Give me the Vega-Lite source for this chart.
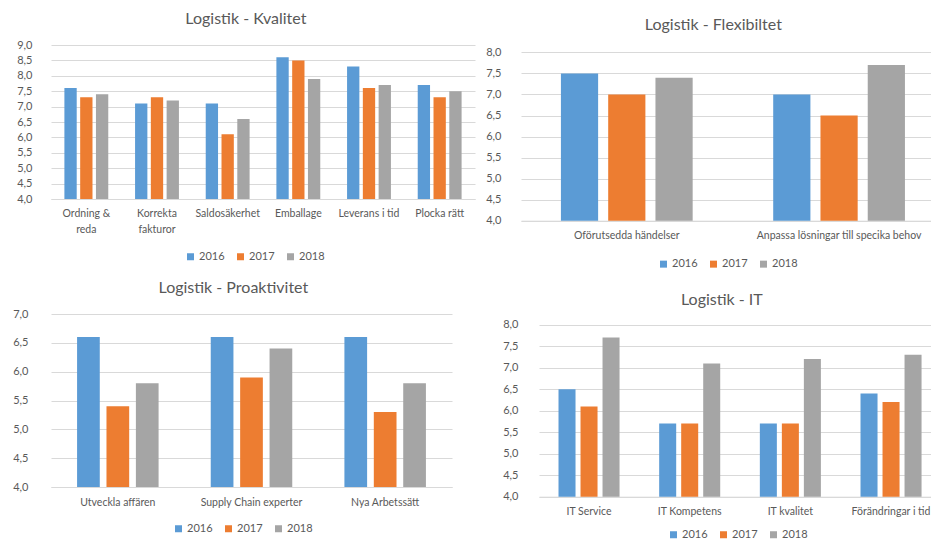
{
  "$schema": "https://vega.github.io/schema/vega-lite/v6.json",
  "padding": {"left": 12, "top": 11, "right": 0, "bottom": 0},
  "background": "white",
  "datasets": {
    "kvalitet": [
      {"category": "Ordning & reda", "year": "2016", "value": 7.6},
      {"category": "Ordning & reda", "year": "2017", "value": 7.3},
      {"category": "Ordning & reda", "year": "2018", "value": 7.4},
      {"category": "Korrekta fakturor", "year": "2016", "value": 7.1},
      {"category": "Korrekta fakturor", "year": "2017", "value": 7.3},
      {"category": "Korrekta fakturor", "year": "2018", "value": 7.2},
      {"category": "Saldosäkerhet", "year": "2016", "value": 7.1},
      {"category": "Saldosäkerhet", "year": "2017", "value": 6.1},
      {"category": "Saldosäkerhet", "year": "2018", "value": 6.6},
      {"category": "Emballage", "year": "2016", "value": 8.6},
      {"category": "Emballage", "year": "2017", "value": 8.5},
      {"category": "Emballage", "year": "2018", "value": 7.9},
      {"category": "Leverans i tid", "year": "2016", "value": 8.3},
      {"category": "Leverans i tid", "year": "2017", "value": 7.6},
      {"category": "Leverans i tid", "year": "2018", "value": 7.7},
      {"category": "Plocka rätt", "year": "2016", "value": 7.7},
      {"category": "Plocka rätt", "year": "2017", "value": 7.3},
      {"category": "Plocka rätt", "year": "2018", "value": 7.5}
    ],
    "flex": [
      {"category": "Oförutsedda händelser", "year": "2016", "value": 7.5},
      {"category": "Oförutsedda händelser", "year": "2017", "value": 7.0},
      {"category": "Oförutsedda händelser", "year": "2018", "value": 7.4},
      {"category": "Anpassa lösningar till specika behov", "year": "2016", "value": 7.0},
      {"category": "Anpassa lösningar till specika behov", "year": "2017", "value": 6.5},
      {"category": "Anpassa lösningar till specika behov", "year": "2018", "value": 7.7}
    ],
    "proaktiv": [
      {"category": "Utveckla affären", "year": "2016", "value": 6.6},
      {"category": "Utveckla affären", "year": "2017", "value": 5.4},
      {"category": "Utveckla affären", "year": "2018", "value": 5.8},
      {"category": "Supply Chain experter", "year": "2016", "value": 6.6},
      {"category": "Supply Chain experter", "year": "2017", "value": 5.9},
      {"category": "Supply Chain experter", "year": "2018", "value": 6.4},
      {"category": "Nya Arbetssätt", "year": "2016", "value": 6.6},
      {"category": "Nya Arbetssätt", "year": "2017", "value": 5.3},
      {"category": "Nya Arbetssätt", "year": "2018", "value": 5.8}
    ],
    "it": [
      {"category": "IT Service", "year": "2016", "value": 6.5},
      {"category": "IT Service", "year": "2017", "value": 6.1},
      {"category": "IT Service", "year": "2018", "value": 7.7},
      {"category": "IT Kompetens", "year": "2016", "value": 5.7},
      {"category": "IT Kompetens", "year": "2017", "value": 5.7},
      {"category": "IT Kompetens", "year": "2018", "value": 7.1},
      {"category": "IT kvalitet", "year": "2016", "value": 5.7},
      {"category": "IT kvalitet", "year": "2017", "value": 5.7},
      {"category": "IT kvalitet", "year": "2018", "value": 7.2},
      {"category": "Förändringar i tid", "year": "2016", "value": 6.4},
      {"category": "Förändringar i tid", "year": "2017", "value": 6.2},
      {"category": "Förändringar i tid", "year": "2018", "value": 7.3}
    ]
  },
  "vconcat": [
    {
      "hconcat": [
        {
          "data": {"name": "kvalitet"},
          "width": 424,
          "height": 154,
          "title": {"text": "Logistik - Kvalitet", "offset": 12},
          "mark": {"type": "bar"},
          "encoding": {
            "x": {"field": "category", "type": "nominal", "sort": null, "title": null,
              "scale": {"paddingInner": 0.33, "paddingOuter": 0.165},
              "axis": {"labelPadding": 9, "labelLineHeight": 16, "labelExpr": "datum.label == 'Ordning & reda' ? ['Ordning &', 'reda'] : datum.label == 'Korrekta fakturor' ? ['Korrekta', 'fakturor'] : datum.label"}},
            "xOffset": {"field": "year", "type": "nominal", "scale": {"paddingInner": 0.22, "paddingOuter": 0.11}},
            "y": {"field": "value", "type": "quantitative", "title": null,
              "scale": {"domain": [4, 9], "zero": false, "nice": false},
              "axis": {"values": [4, 4.5, 5, 5.5, 6, 6.5, 7, 7.5, 8, 8.5, 9], "labelPadding": 19, "labelExpr": "replace(format(datum.value, '.1f'), '.', ',')"}},
            "y2": {"datum": 4},
            "color": {"field": "year", "type": "nominal",
              "scale": {"domain": ["2016", "2017", "2018"], "range": ["#5B9BD5", "#ED7D31", "#A5A5A5"]},
              "legend": {"orient": "none", "legendX": 134, "legendY": 206, "direction": "horizontal", "title": null}}
          }
        },
        {
          "data": {"name": "flex"},
          "width": 410,
          "height": 175.7,
          "title": {"text": "Logistik - Flexibiltet", "offset": 11.8, "dx": 5},
          "mark": {"type": "bar"},
          "encoding": {
            "x": {"field": "category", "type": "nominal", "sort": null, "title": null,
              "scale": {"paddingInner": 0.332, "paddingOuter": 0.1317, "align": 0.624},
              "axis": {"labelPadding": 10}},
            "xOffset": {"field": "year", "type": "nominal", "scale": {"paddingInner": 0.213, "paddingOuter": 0.1065}},
            "y": {"field": "value", "type": "quantitative", "title": null,
              "scale": {"domain": [4, 8.176], "zero": false, "nice": false},
              "axis": {"values": [4, 4.5, 5, 5.5, 6, 6.5, 7, 7.5, 8], "labelPadding": 20, "labelExpr": "replace(format(datum.value, '.1f'), '.', ',')"}},
            "y2": {"datum": 4},
            "color": {"field": "year", "type": "nominal",
              "scale": {"domain": ["2016", "2017", "2018"], "range": ["#5B9BD5", "#ED7D31", "#A5A5A5"]},
              "legend": {"orient": "none", "legendX": 137, "legendY": 213.4, "direction": "horizontal", "title": null}}
          }
        }
      ],
      "spacing": 10,
      "resolve": {"scale": {"x": "independent", "y": "independent", "xOffset": "independent", "color": "independent"}, "axis": {"x": "independent", "y": "independent"}, "legend": {"color": "independent"}}
    },
    {
      "hconcat": [
        {
          "data": {"name": "proaktiv"},
          "width": 401,
          "height": 173,
          "title": {"text": "Logistik - Proaktivitet", "offset": 12, "dx": 1},
          "mark": {"type": "bar"},
          "encoding": {
            "x": {"field": "category", "type": "nominal", "sort": null, "title": null,
              "scale": {"paddingInner": 0.34, "paddingOuter": 0.17},
              "axis": {"labelPadding": 10}},
            "xOffset": {"field": "year", "type": "nominal", "scale": {"paddingInner": 0.228, "paddingOuter": 0.114}},
            "y": {"field": "value", "type": "quantitative", "title": null,
              "scale": {"domain": [4, 7], "zero": false, "nice": false},
              "axis": {"values": [4, 4.5, 5, 5.5, 6, 6.5, 7], "labelPadding": 23, "labelExpr": "replace(format(datum.value, '.1f'), '.', ',')"}},
            "y2": {"datum": 4},
            "color": {"field": "year", "type": "nominal",
              "scale": {"domain": ["2016", "2017", "2018"], "range": ["#5B9BD5", "#ED7D31", "#A5A5A5"]},
              "legend": {"orient": "none", "legendX": 122, "legendY": 209, "direction": "horizontal", "title": null}}
          }
        },
        {
          "data": {"name": "it"},
          "width": 392,
          "height": 182.7,
          "title": {"text": "Logistik - IT", "offset": 6.2, "dx": 5},
          "mark": {"type": "bar"},
          "encoding": {
            "x": {"field": "category", "type": "nominal", "sort": null, "title": null,
              "scale": {"paddingInner": 0.344, "paddingOuter": 0.119, "align": 0.71},
              "axis": {"labelPadding": 10}},
            "xOffset": {"field": "year", "type": "nominal", "scale": {"paddingInner": 0.227, "paddingOuter": 0.1135}},
            "y": {"field": "value", "type": "quantitative", "title": null,
              "scale": {"domain": [4, 8.249], "zero": false, "nice": false},
              "axis": {"values": [4, 4.5, 5, 5.5, 6, 6.5, 7, 7.5, 8], "labelPadding": 21, "labelExpr": "replace(format(datum.value, '.1f'), '.', ',')"}},
            "y2": {"datum": 4},
            "color": {"field": "year", "type": "nominal",
              "scale": {"domain": ["2016", "2017", "2018"], "range": ["#5B9BD5", "#ED7D31", "#A5A5A5"]},
              "legend": {"orient": "none", "legendX": 129, "legendY": 215, "direction": "horizontal", "title": null}}
          }
        }
      ],
      "spacing": 50,
      "resolve": {"scale": {"x": "independent", "y": "independent", "xOffset": "independent", "color": "independent"}, "axis": {"x": "independent", "y": "independent"}, "legend": {"color": "independent"}}
    }
  ],
  "spacing": 10,
  "resolve": {"scale": {"x": "independent", "y": "independent", "xOffset": "independent", "color": "independent"}, "axis": {"x": "independent", "y": "independent"}, "legend": {"color": "independent"}},
  "config": {
    "font": "Lato",
    "view": {"stroke": null},
    "title": {"fontSize": 16, "fontWeight": "normal", "color": "#595959", "font": "Lato", "frame": "bounds", "anchor": "middle"},
    "axis": {"labelColor": "#595959", "labelFont": "Lato", "ticks": false, "gridColor": "#D9D9D9", "domainColor": "#D9D9D9"},
    "axisX": {"grid": false, "domain": true, "labelAngle": 0, "labelFontSize": 10.5},
    "axisY": {"grid": true, "domain": false, "labelFontSize": 11},
    "legend": {"symbolType": "square", "symbolSize": 49, "symbolStrokeWidth": 0, "labelFontSize": 11, "labelColor": "#595959", "labelFont": "Lato", "labelOffset": 3, "columnPadding": 10}
  }
}
